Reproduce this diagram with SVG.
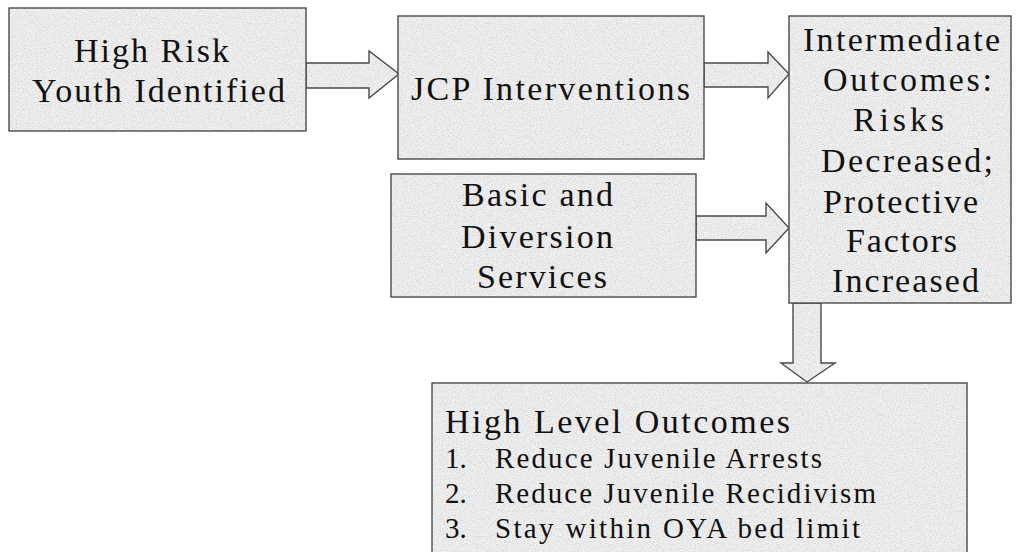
<svg xmlns="http://www.w3.org/2000/svg" width="1018" height="552" viewBox="0 0 1018 552">
<defs>
<filter id="granite" x="0" y="0" width="100%" height="100%" color-interpolation-filters="sRGB">
<feTurbulence type="fractalNoise" baseFrequency="0.85" numOctaves="3" seed="7" result="n"/>
<feColorMatrix in="n" type="matrix" values="0 0 0 0 0.72  0 0 0 0 0.72  0 0 0 0 0.72  1.2 0 0 0 -0.5" result="spots"/>
<feComposite in="spots" in2="SourceGraphic" operator="in" result="s"/>
<feMerge><feMergeNode in="SourceGraphic"/><feMergeNode in="s"/></feMerge>
</filter>
</defs>
<style>
.fill{fill:#f1f1f1;filter:url(#granite);}
.edge{fill:none;stroke:#4a4a4a;stroke-width:1.4;}
.t{font-family:"Liberation Serif","Times New Roman",serif;fill:#111;}
.b{font-size:34px;}
.h{font-size:34px;}
.l{font-size:29px;}
</style>
<rect width="1018" height="552" fill="#ffffff"/>

<g id="connectors">
<polygon class="fill" points="306,63 369,63 369,51 399,74 369,98 369,88 306,88"/>
<polygon class="edge" points="306,63 369,63 369,51 399,74 369,98 369,88 306,88"/>
<polygon class="fill" points="704,63 768,63 768,52 789,74 768,98 768,87 704,87"/>
<polygon class="edge" points="704,63 768,63 768,52 789,74 768,98 768,87 704,87"/>
<polygon class="fill" points="696,216 766,216 766,203 789,228 766,253 766,240 696,240"/>
<polygon class="edge" points="696,216 766,216 766,203 789,228 766,253 766,240 696,240"/>
<polygon class="fill" points="793,303 821,303 821,363 835,363 807,382 781,363 793,363"/>
<polygon class="edge" points="793,303 821,303 821,363 835,363 807,382 781,363 793,363"/>
</g>

<g id="high-risk">
<rect class="fill" x="9" y="8" width="297" height="123"/>
<rect class="edge" x="9" y="8" width="297" height="123"/>
<text class="t b" x="74" y="62" textLength="155" lengthAdjust="spacing">High Risk</text>
<text class="t b" x="32" y="102" textLength="253" lengthAdjust="spacing">Youth Identified</text>
</g>

<g id="jcp">
<rect class="fill" x="398" y="16" width="306" height="143"/>
<rect class="edge" x="398" y="16" width="306" height="143"/>
<text class="t b" x="411" y="100" textLength="279" lengthAdjust="spacing">JCP Interventions</text>
</g>

<g id="basic">
<rect class="fill" x="391" y="174" width="305" height="123"/>
<rect class="edge" x="391" y="174" width="305" height="123"/>
<text class="t b" x="462" y="206" textLength="151" lengthAdjust="spacing">Basic and</text>
<text class="t b" x="461" y="248" textLength="152" lengthAdjust="spacing">Diversion</text>
<text class="t b" x="477" y="288" textLength="130" lengthAdjust="spacing">Services</text>
</g>

<g id="intermediate">
<rect class="fill" x="789" y="16" width="222" height="287"/>
<rect class="edge" x="789" y="16" width="222" height="287"/>
<text class="t b" x="803" y="51" textLength="197" lengthAdjust="spacing">Intermediate</text>
<text class="t b" x="823" y="91" textLength="169" lengthAdjust="spacing">Outcomes:</text>
<text class="t b" x="853" y="131" textLength="91" lengthAdjust="spacing">Risks</text>
<text class="t b" x="821" y="172" textLength="172" lengthAdjust="spacing">Decreased;</text>
<text class="t b" x="823" y="213" textLength="155" lengthAdjust="spacing">Protective</text>
<text class="t b" x="846" y="252" textLength="111" lengthAdjust="spacing">Factors</text>
<text class="t b" x="832" y="292" textLength="147" lengthAdjust="spacing">Increased</text>
</g>

<g id="high-level">
<rect class="fill" x="432" y="383" width="535" height="200"/>
<rect class="edge" x="432" y="383" width="535" height="200"/>
<text class="t h" x="445" y="433" textLength="345" lengthAdjust="spacing">High Level Outcomes</text>
<text class="t l" x="445" y="468">1.</text>
<text class="t l" x="495" y="468" textLength="327" lengthAdjust="spacing">Reduce Juvenile Arrests</text>
<text class="t l" x="445" y="503">2.</text>
<text class="t l" x="495" y="503" textLength="381" lengthAdjust="spacing">Reduce Juvenile Recidivism</text>
<text class="t l" x="445" y="538">3.</text>
<text class="t l" x="495" y="538" textLength="365" lengthAdjust="spacing">Stay within OYA bed limit</text>
</g>
</svg>
